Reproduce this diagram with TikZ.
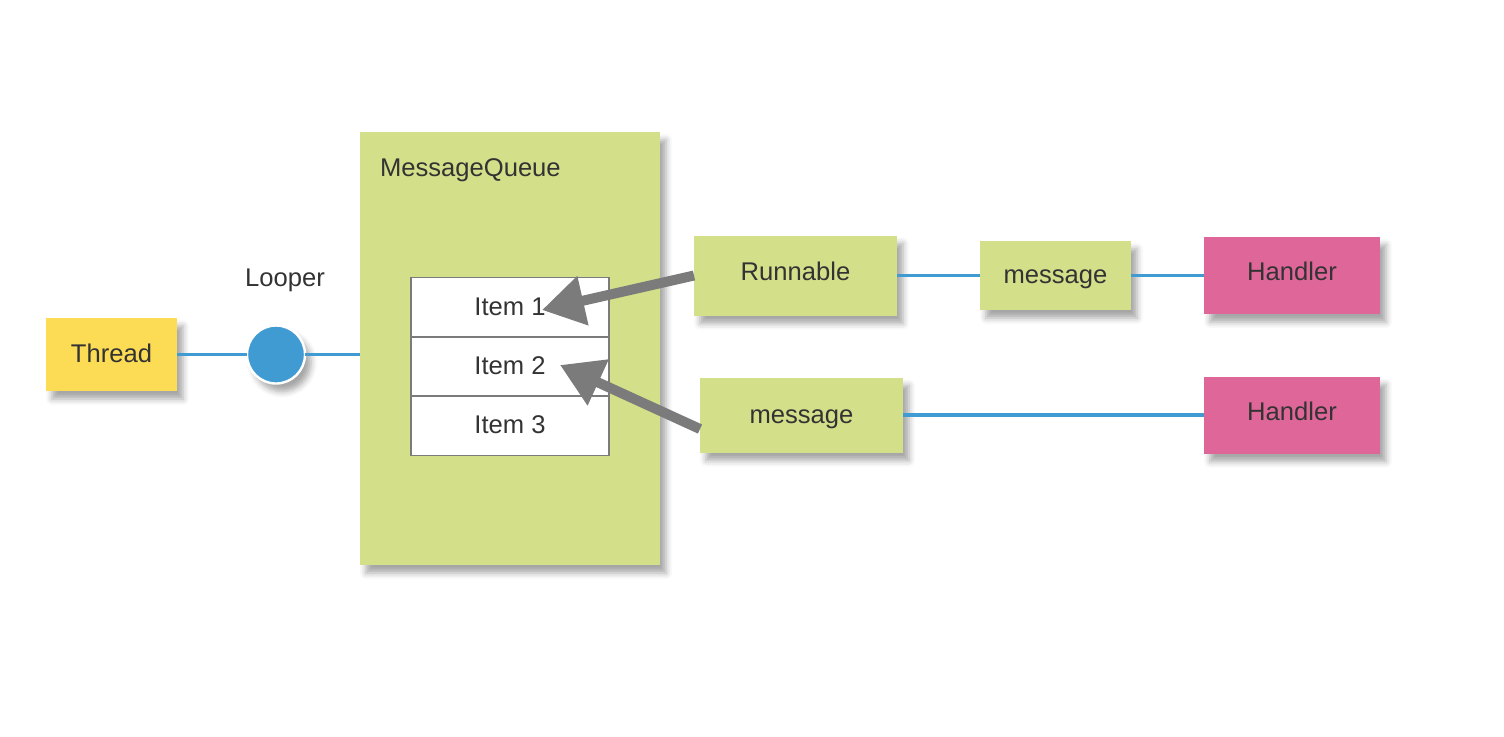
\documentclass[tikz,border=0pt]{standalone}
\usepackage{fontspec}
\setmainfont{Liberation Sans}
\usetikzlibrary{positioning, arrows.meta, calc, shadows.blur}

\definecolor{threadyellow}{HTML}{FCDC55}
\definecolor{queuegreen}{HTML}{D4DF8A}
\definecolor{handlerpink}{HTML}{DE6699}
\definecolor{linkblue}{HTML}{419BD3}
\definecolor{arrowgray}{HTML}{7B7B7B}
\definecolor{textgray}{HTML}{333333}

\tikzset{
    base/.style={font=\fontsize{12.8}{15}\selectfont, text=textgray, inner sep=0pt, outer sep=0pt,
        text height=8pt, text depth=0pt},
    raised/.style={text depth=3pt},
    shade/.style={blur shadow={shadow xshift=3pt, shadow yshift=-4pt, shadow blur radius=3pt, shadow opacity=35}},
    box/.style={base, shade, rectangle},
    item/.style={base, rectangle, draw=arrowgray, line width=0.8pt, fill=white, minimum width=99pt, minimum height=29.7pt},
    link/.style={linkblue, line width=1.6pt},
    bigarrow/.style={arrowgray, line width=5pt, -{Triangle[length=21pt, width=24pt]}}
}

\begin{document}
\begin{tikzpicture}[x=0.5pt, y=-0.5pt]
    \useasboundingbox (0,0) rectangle (1504,736);

    \node[box, fill=threadyellow, minimum width=65.5pt, minimum height=36.5pt] (thread) at (111.5,354.5) {Thread};
    \node[box, fill=queuegreen, minimum width=150pt, minimum height=216.5pt] (queue) at (510,348.5) {};
    \node[base, anchor=west] (mqlabel) at ($(queue.north west)+(20,36)$) {MessageQueue};
    \node[base, circle, shade, fill=linkblue, draw=white, line width=1.2pt, minimum size=29pt, text height=, text depth=] (looper) at (276,354.5) {};
    \node[base] (looperlabel) at (285,278) {Looper};

    \node[item] (item1) at (510,307) {Item 1};
    \node[item, below=0pt of item1] (item2) {Item 2};
    \node[item, below=0pt of item2] (item3) {Item 3};

    \node[box, raised, fill=queuegreen, minimum width=101.5pt, minimum height=40pt] (runnable) at (795.5,275.5) {Runnable};
    \node[box, fill=queuegreen, minimum width=75.5pt, minimum height=34.5pt] (msgone) at (1055.5,275.5) {message};
    \node[box, raised, fill=handlerpink, minimum width=88pt, minimum height=38.5pt] (handlerone) at (1292,275.5) {Handler};
    \node[box, fill=queuegreen, minimum width=101.5pt, minimum height=37.5pt] (msgtwo) at (801.5,415) {message};
    \node[box, raised, fill=handlerpink, minimum width=88pt, minimum height=38.5pt] (handlertwo) at (1292,415) {Handler};

    \coordinate (tipone) at (542,310);
    \coordinate (tiptwo) at (560,365);

    \draw[link]
        (thread) -- (looper)
        (looper) -- (looper -| queue.west)
        (runnable) -- (msgone)
        (msgone) -- (handlerone)
        (msgtwo) -- (handlertwo)
        ;

    \draw[bigarrow] (runnable.west) -- (tipone);
    \draw[bigarrow] ([yshift=-7pt]msgtwo.west) -- (tiptwo);
\end{tikzpicture}
\end{document}
